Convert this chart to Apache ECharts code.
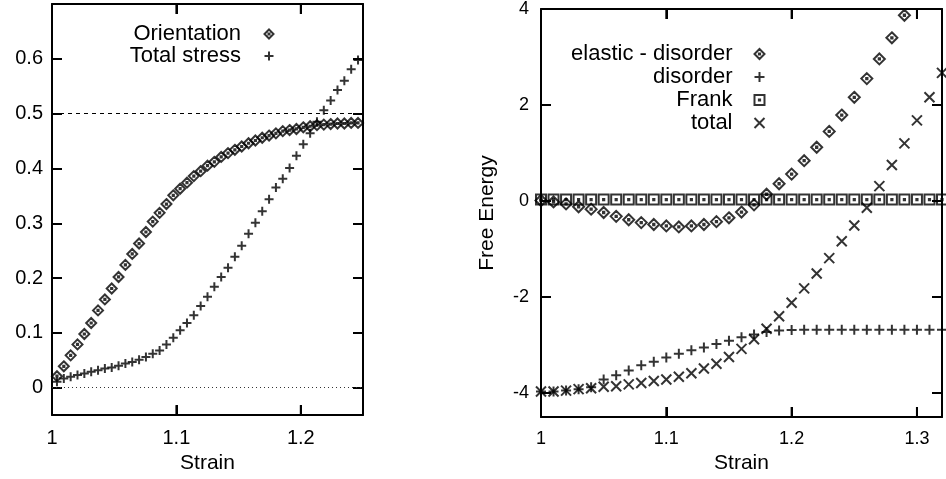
<!DOCTYPE html>
<html>
<head>
<meta charset="utf-8" />
<title>Strain</title>
<script src="https://cdn.jsdelivr.net/npm/echarts@6/dist/echarts.min.js"></script>
<style>
  body { margin: 0; background: #fff; }
  #main { width: 946px; height: 479px; }
</style>
</head>
<body>
<div id="main"></div>
<script>
// left panel: orientation and total stress vs strain
var leftStrain = [1.004, 1.0095, 1.015, 1.0205, 1.026, 1.0315, 1.037, 1.0425, 1.048, 1.0535,
  1.059, 1.0645, 1.070, 1.0755, 1.081, 1.0865, 1.092, 1.0975, 1.103, 1.1085,
  1.114, 1.1195, 1.125, 1.1305, 1.136, 1.1415, 1.147, 1.1525, 1.158, 1.1635,
  1.169, 1.1745, 1.180, 1.1855, 1.191, 1.1965, 1.202, 1.2075, 1.213, 1.2185,
  1.224, 1.2295, 1.235, 1.2405, 1.246];
var orientation = [0.021, 0.039, 0.059, 0.079, 0.098, 0.118, 0.141, 0.161, 0.181, 0.202,
  0.224, 0.244, 0.263, 0.284, 0.303, 0.319, 0.335, 0.351, 0.363, 0.374,
  0.386, 0.395, 0.405, 0.412, 0.421, 0.428, 0.434, 0.440, 0.446, 0.451,
  0.456, 0.460, 0.464, 0.468, 0.470, 0.472, 0.475, 0.477, 0.479, 0.480,
  0.481, 0.482, 0.482, 0.483, 0.483];
var totalStress = [0.011, 0.017, 0.020, 0.023, 0.026, 0.029, 0.032, 0.035, 0.037, 0.040,
  0.044, 0.047, 0.051, 0.056, 0.062, 0.068, 0.079, 0.091, 0.105, 0.118,
  0.132, 0.149, 0.166, 0.184, 0.202, 0.219, 0.239, 0.259, 0.281, 0.301,
  0.322, 0.344, 0.365, 0.381, 0.401, 0.423, 0.444, 0.464, 0.485, 0.506,
  0.524, 0.543, 0.560, 0.581, 0.598];
var leftXTicks = [1, 1.1, 1.2];
var leftYTicks = [0, 0.1, 0.2, 0.3, 0.4, 0.5, 0.6];

// right panel: free energy terms vs strain
var rightStrain = [1.00, 1.01, 1.02, 1.03, 1.04, 1.05, 1.06, 1.07, 1.08, 1.09,
  1.10, 1.11, 1.12, 1.13, 1.14, 1.15, 1.16, 1.17, 1.18, 1.19,
  1.20, 1.21, 1.22, 1.23, 1.24, 1.25, 1.26, 1.27, 1.28, 1.29,
  1.30, 1.31, 1.32];
var elasticDisorder = [0.01, -0.02, -0.06, -0.12, -0.17, -0.24, -0.32, -0.39, -0.45, -0.49,
  -0.52, -0.54, -0.52, -0.49, -0.43, -0.35, -0.23, -0.08, 0.14, 0.36,
  0.56, 0.84, 1.12, 1.45, 1.79, 2.16, 2.55, 2.96, 3.40, 3.87];
var disorder = [-3.97, -3.97, -3.95, -3.92, -3.88, -3.72, -3.63, -3.53, -3.42, -3.35,
  -3.26, -3.18, -3.11, -3.05, -2.98, -2.91, -2.84, -2.78, -2.73, -2.70,
  -2.69, -2.68, -2.68, -2.68, -2.68, -2.68, -2.68, -2.68, -2.68, -2.68,
  -2.68, -2.68, -2.68];
var frank = [0.03, 0.03, 0.03, 0.03, 0.03, 0.03, 0.03, 0.03, 0.03, 0.03,
  0.03, 0.03, 0.03, 0.03, 0.03, 0.03, 0.03, 0.03, 0.03, 0.03,
  0.03, 0.03, 0.03, 0.03, 0.03, 0.03, 0.03, 0.03, 0.03, 0.03,
  0.03, 0.03, 0.03];
var total = [-3.97, -3.97, -3.95, -3.92, -3.90, -3.87, -3.86, -3.82, -3.79, -3.75,
  -3.72, -3.66, -3.59, -3.49, -3.39, -3.25, -3.08, -2.88, -2.66, -2.40,
  -2.12, -1.82, -1.51, -1.19, -0.84, -0.51, -0.14, 0.31, 0.75, 1.20,
  1.68, 2.16, 2.67];
var rightXTicks = [1, 1.1, 1.2, 1.3];
var rightYTicks = [-4, -2, 0, 2, 4];

var FONT = 'Liberation Sans';
var SYM_DIAMOND = 'path://M0,-10L10,0L0,10L-10,0Z M-1.2,-1.2L1.2,-1.2L1.2,1.2L-1.2,1.2Z';
var SYM_PLUS = 'path://M0,-10L0,10M-10,0L10,0';
var SYM_SQUARE = 'path://M-10,-10L10,-10L10,10L-10,10Z M-1.2,-1.2L1.2,-1.2L1.2,1.2L-1.2,1.2Z';
var SYM_CROSS = 'path://M-10,-10L10,10M-10,10L10,-10';

function zip(xs, ys) {
  var out = [];
  for (var i = 0; i < ys.length; i++) out.push([xs[i], ys[i]]);
  return out;
}

var markStyle = { color: 'none', borderColor: '#000', borderWidth: 2 };
var frameLine = { color: '#000', width: 2 };

function scatter(name, xi, yi, data, symbol, size) {
  return {
    name: name, type: 'scatter', xAxisIndex: xi, yAxisIndex: yi,
    data: data, symbol: symbol, symbolSize: size, symbolKeepAspect: true,
    itemStyle: markStyle, silent: true, clip: false
  };
}

// inward strain ticks on the bottom and top frame; x from the tick list,
// placed with the grid's own axes, 10px long
function xTickSeries(xi, yi, ticks, ymin, ymax) {
  return {
    type: 'custom', name: 'xticks', xAxisIndex: xi, yAxisIndex: yi,
    silent: true, z: 10, clip: false,
    data: ticks.map(function (t) { return [t, ymin]; }),
    encode: { x: 0, y: 1 },
    renderItem: function (params, api) {
      var b = api.coord([api.value(0), ymin]);
      var t = api.coord([api.value(0), ymax]);
      var st = { stroke: '#000', lineWidth: 2 };
      return {
        type: 'group',
        children: [
          { type: 'line', shape: { x1: b[0], y1: b[1], x2: b[0], y2: b[1] - 10 }, style: st },
          { type: 'line', shape: { x1: t[0], y1: t[1], x2: t[0], y2: t[1] + 10 }, style: st }
        ]
      };
    }
  };
}

function tickStyle(ticks) {
  return { show: true, inside: true, length: 10, lineStyle: frameLine, customValues: ticks };
}

function xAxes(gridIndex, min, max, ticks, fontSize, nameGap) {
  return [{
    type: 'value', gridIndex: gridIndex, min: min, max: max, position: 'bottom',
    name: 'Strain', nameLocation: 'middle', nameGap: nameGap,
    nameTextStyle: { color: '#000', fontFamily: FONT, fontSize: 21 },
    axisLine: { show: true, onZero: false, lineStyle: frameLine },
    axisTick: tickStyle(ticks), splitLine: { show: false },
    axisLabel: { customValues: ticks, color: '#000', fontFamily: FONT, fontSize: fontSize, margin: 13 }
  }, {
    type: 'value', gridIndex: gridIndex, min: min, max: max, position: 'top',
    axisLine: { show: true, onZero: false, lineStyle: frameLine },
    axisTick: tickStyle(ticks), splitLine: { show: false },
    axisLabel: { show: false }
  }];
}

function yAxes(gridIndex, min, max, ticks, fontSize, margin, name) {
  return [{
    type: 'value', gridIndex: gridIndex, min: min, max: max, position: 'left',
    name: name, nameLocation: 'middle', nameGap: 43, nameRotate: 90,
    nameTextStyle: { color: '#000', fontFamily: FONT, fontSize: 21 },
    axisLine: { show: true, onZero: false, lineStyle: frameLine },
    axisTick: tickStyle(ticks), splitLine: { show: false },
    axisLabel: { customValues: ticks, color: '#000', fontFamily: FONT, fontSize: fontSize, margin: margin }
  }, {
    type: 'value', gridIndex: gridIndex, min: min, max: max, position: 'right',
    axisLine: { show: true, onZero: false, lineStyle: frameLine },
    axisTick: tickStyle(ticks), splitLine: { show: false },
    axisLabel: { show: false }
  }];
}

var lx = xAxes(0, 1, 1.25, leftXTicks, 20, 32);
var rx = xAxes(1, 1, 1.32, rightXTicks, 18, 34);
var ly = yAxes(0, -0.05, 0.7, leftYTicks, 20, 9, '');
var ry = yAxes(1, -4.5, 4, rightYTicks, 18, 12, 'Free Energy');

var legendText = { color: '#000', fontFamily: FONT, fontSize: 22, lineHeight: 22 };

var orientationSeries = scatter('Orientation', 0, 0, zip(leftStrain, orientation), SYM_DIAMOND, 10);
orientationSeries.markLine = {
  silent: true, symbol: 'none', label: { show: false },
  data: [
    { yAxis: 0.5, lineStyle: { color: '#000', width: 1, type: [4, 4] } },
    { yAxis: 0, lineStyle: { color: '#333', width: 1, type: [1, 3] } }
  ]
};

var option = {
  animation: false,
  backgroundColor: '#fff',
  grid: [
    { left: 52, top: 4, width: 311, height: 413, show: false },
    { left: 541, top: 5, width: 401, height: 412, show: false }
  ],
  xAxis: [lx[0], lx[1], rx[0], rx[1]],
  yAxis: [ly[0], ly[1], ry[0], ry[1]],
  legend: [{
    data: ['Orientation', 'Total stress'],
    orient: 'vertical', align: 'right', right: 670, top: 23, padding: 0,
    itemWidth: 46, itemHeight: 9, itemGap: 0, selectedMode: false,
    itemStyle: markStyle, textStyle: legendText
  }, {
    data: ['elastic - disorder', 'disorder', 'Frank', 'total'],
    orient: 'vertical', align: 'right', right: 179, top: 43, padding: 0,
    itemWidth: 44, itemHeight: 10, itemGap: 1, selectedMode: false,
    itemStyle: markStyle, textStyle: legendText
  }],
  series: [
    orientationSeries,
    scatter('Total stress', 0, 0, zip(leftStrain, totalStress), SYM_PLUS, 9),
    scatter('elastic - disorder', 2, 2, zip(rightStrain, elasticDisorder), SYM_DIAMOND, 11),
    scatter('disorder', 2, 2, zip(rightStrain, disorder), SYM_PLUS, 10),
    scatter('Frank', 2, 2, zip(rightStrain, frank), SYM_SQUARE, 10),
    scatter('total', 2, 2, zip(rightStrain, total), SYM_CROSS, 10),
    xTickSeries(0, 0, leftXTicks.slice(1), -0.05, 0.7),
    xTickSeries(2, 2, rightXTicks.slice(1), -4.5, 4)
  ]
};

var myChart = echarts.init(document.getElementById('main'), null, { renderer: 'canvas' });
myChart.setOption(option);
</script>
</body>
</html>
